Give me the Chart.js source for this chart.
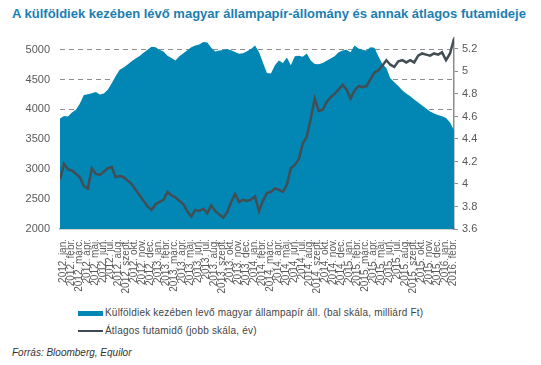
<!DOCTYPE html>
<html>
<head>
<meta charset="utf-8">
<script src="https://cdn.jsdelivr.net/npm/chart.js@4.4.1/dist/chart.umd.min.js"></script>
<style>
  body { margin: 0; background: #fff; width: 541px; height: 365px; overflow: hidden; position: relative; font-family: "Liberation Sans", Arial, sans-serif; }
  #title { position: absolute; left: 12px; top: 6px; font-size: 13px; font-weight: bold; color: #1b7eb0; white-space: nowrap; }
  #wrap { position: absolute; left: 0; top: 0; width: 541px; height: 300px; }
  .leg { position: absolute; left: 78px; font-size: 10px; color: #444; white-space: nowrap; letter-spacing: 0.2px; }
  .leg span { display: inline-block; width: 25px; vertical-align: middle; margin-right: 2px; }
  #src { position: absolute; left: 12px; top: 347px; font-size: 10px; font-style: italic; color: #333; }
</style>
</head>
<body>
<div id="title">A külföldiek kezében lévő magyar állampapír-állomány és annak átlagos futamideje</div>
<div id="wrap"><canvas id="chart" width="541" height="300"></canvas></div>
<div class="leg" style="top:307px"><span style="height:5px;background:#0286b3"></span>Külföldiek kezében levő magyar állampapír áll. (bal skála, milliárd Ft)</div>
<div class="leg" style="top:325px"><span style="height:2px;background:#3d4a52"></span>Átlagos futamidő (jobb skála, év)</div>
<div id="src">Forrás: Bloomberg, Equilor</div>
<script>
// month labels on the x axis (2012 jan - 2016 febr)
var monthNames = ['jan.', 'febr.', 'márc.', 'ápr.', 'máj.', 'jún.', 'júl.', 'aug.', 'szept.', 'okt.', 'nov.', 'dec.'];
var monthLabels = [];
for (var y = 2012; y <= 2016; y++) {
    for (var m = 0; m < 12; m++) {
        if (y === 2016 && m > 1) break;
        monthLabels.push(y + '. ' + monthNames[m]);
    }
}

// tick values of the two value axes
var leftTicks = [2000, 2500, 3000, 3500, 4000, 4500, 5000];
var rightTicks = [3.6, 3.8, 4, 4.2, 4.4, 4.6, 4.8, 5, 5.2];

// half-month samples, starting just before 2012 jan
var startMonth = -0.375;
var stepMonth = 0.5;

// foreign holdings, billion HUF (left scale)
var holdings = [
    3850, 3890, 3880, 3950, 3995, 4100, 4240, 4255, 4270, 4290,
    4250, 4265, 4330, 4440, 4560, 4665, 4700, 4750, 4805, 4850,
    4895, 4950, 5000, 5050, 5040, 5000, 4970, 4900, 4860, 4820,
    4890, 4940, 4990, 5040, 5070, 5085, 5130, 5120, 5030, 4970,
    4985, 4995, 5010, 4990, 4960, 4930, 4940, 4975, 5010, 5070,
    4960, 4780, 4610, 4600, 4740, 4820, 4775, 4870, 4740, 4890,
    4900, 4880, 4935, 4820, 4760, 4755, 4775, 4815, 4850, 4890,
    4955, 4985, 5000, 4955, 5070, 5020, 5000, 4985, 5040, 5030,
    4890, 4760, 4695, 4520, 4455, 4390, 4320, 4265, 4220, 4165,
    4115, 4065, 4015, 3965, 3930, 3905, 3885, 3855, 3780, 3650
];

// average maturity, years (right scale)
var maturity = [
    4.04, 4.18, 4.13, 4.12, 4.09, 4.06, 3.98, 3.96, 4.14, 4.09,
    4.08, 4.11, 4.14, 4.15, 4.06, 4.07, 4.06, 4.03, 4.00, 3.95,
    3.90, 3.85, 3.80, 3.77, 3.82, 3.84, 3.86, 3.93, 3.90, 3.88,
    3.85, 3.82, 3.755, 3.71, 3.77, 3.76, 3.78, 3.74, 3.81, 3.76,
    3.73, 3.70, 3.75, 3.84, 3.91, 3.84, 3.86, 3.85, 3.86, 3.89,
    3.76, 3.85, 3.92, 3.93, 3.96, 3.95, 3.93, 3.99, 4.14, 4.17,
    4.22, 4.36, 4.42, 4.58, 4.76, 4.65, 4.66, 4.73, 4.77, 4.80,
    4.84, 4.88, 4.84, 4.76, 4.83, 4.87, 4.86, 4.87, 4.93, 4.99,
    5.01, 5.05, 5.10, 5.06, 5.04, 5.09, 5.10, 5.08, 5.10, 5.08,
    5.14, 5.16, 5.15, 5.14, 5.16, 5.15, 5.17, 5.10, 5.16, 5.29
];

function toPoints(arr) {
    return arr.map((v, i) => ({ x: startMonth + i * stepMonth, y: v }));
}

var tickColor = '#595959';
var tickFont = { family: '"Liberation Sans", Arial, sans-serif', size: 11 };

new Chart(document.getElementById('chart'), {
    type: 'line',
    data: {
        datasets: [
            {
                label: 'Átlagos futamidő (jobb skála, év)',
                data: toPoints(maturity),
                yAxisID: 'yR',
                borderColor: '#434d54',
                borderWidth: 2.5,
                pointRadius: 0,
                fill: false,
                tension: 0,
                order: 0
            },
            {
                label: 'Külföldiek kezében levő magyar állampapír áll. (bal skála, milliárd Ft)',
                data: toPoints(holdings),
                yAxisID: 'yL',
                borderWidth: 0,
                backgroundColor: '#0286b3',
                pointRadius: 0,
                fill: 'start',
                tension: 0,
                order: 1
            }
        ]
    },
    options: {
        responsive: false,
        animation: false,
        layout: { padding: { top: 37.7, left: 0, right: 0, bottom: 0 } },
        plugins: { legend: { display: false }, tooltip: { enabled: false } },
        scales: {
            x: {
                type: 'linear',
                min: startMonth,
                max: startMonth + (holdings.length - 1) * stepMonth,
                afterBuildTicks: s => { s.ticks = monthLabels.map((_, i) => ({ value: i })); },
                afterFit: s => { s.height = 71; },
                ticks: {
                    autoSkip: false,
                    maxRotation: 90,
                    minRotation: 90,
                    padding: 2,
                    color: tickColor,
                    font: { family: '"Liberation Sans", Arial, sans-serif', size: 10 },
                    callback: v => monthLabels[v]
                },
                grid: { display: false },
                border: { display: true, color: '#a6a6a6', width: 1.5 }
            },
            yL: {
                position: 'left',
                min: 2000,
                max: 5200,
                afterBuildTicks: s => { s.ticks = leftTicks.map(v => ({ value: v })); },
                afterFit: s => { s.width = 60; },
                ticks: { autoSkip: false, color: tickColor, font: tickFont, padding: 10, callback: v => String(v) },
                grid: {
                    color: ctx => ctx.tick && ctx.tick.value === 2000 ? 'rgba(0,0,0,0)' : '#8c8c8c',
                    drawTicks: false,
                    lineWidth: 1
                },
                border: { display: false, dash: [5, 4] }
            },
            yR: {
                position: 'right',
                min: 3.6,
                max: 5.3,
                afterBuildTicks: s => { s.ticks = rightTicks.map(v => ({ value: v })); },
                afterFit: s => { s.width = 87; },
                ticks: {
                    autoSkip: false,
                    color: tickColor,
                    font: tickFont,
                    padding: 4,
                    callback: v => String(Math.round(v * 10) / 10)
                },
                grid: { drawOnChartArea: false, tickLength: 4, color: '#8c8c8c' },
                border: { display: true, color: '#8c8c8c', width: 1.5 }
            }
        }
    }
});
</script>
</body>
</html>
